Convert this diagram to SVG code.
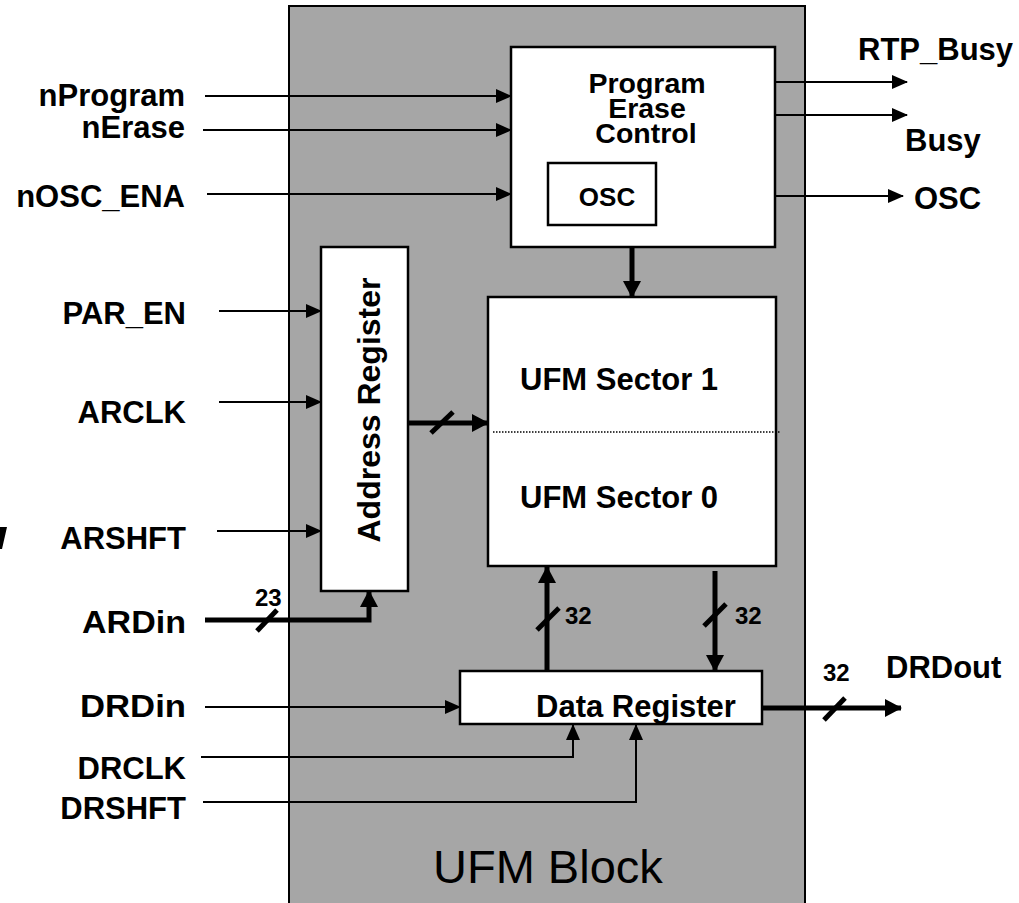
<svg xmlns="http://www.w3.org/2000/svg" width="1019" height="903" viewBox="0 0 1019 903">
  <style>
    .box { fill: #ffffff; stroke: #000000; stroke-width: 2.5; }
    .lbl { font-family: "Liberation Sans", Arial, sans-serif; font-weight: bold; font-size: 31px; fill: #000000; }
    .ctl { font-family: "Liberation Sans", Arial, sans-serif; font-weight: bold; font-size: 28.5px; fill: #000000; text-anchor: middle; }
    .in  { text-anchor: end; }
    .mid { text-anchor: middle; }
    .bus { font-family: "Liberation Sans", Arial, sans-serif; font-weight: bold; font-size: 24px; fill: #000000; }
    .thin { fill: none; stroke: #000000; stroke-width: 2; }
    .thick { fill: none; stroke: #000000; stroke-width: 5; }
    .slash { fill: none; stroke: #000000; stroke-width: 5; }
  </style>
  <defs>
    <marker id="arrowThin" markerUnits="userSpaceOnUse" markerWidth="16" markerHeight="14" refX="15" refY="7" orient="auto">
      <path d="M0,0 L16,7 L0,14 Z" fill="#000000"/>
    </marker>
    <marker id="arrowThick" markerUnits="userSpaceOnUse" markerWidth="17" markerHeight="18" refX="16" refY="9" orient="auto">
      <path d="M0,0 L17,9 L0,18 Z" fill="#000000"/>
    </marker>
  </defs>

  <rect width="1019" height="903" fill="#ffffff"/>

  <!-- stray fragment at the left edge -->
  <polygon points="0,527 7,527 2,549 0,549" fill="#000000"/>

  <!-- UFM block container -->
  <g id="ufm-block">
    <rect x="289" y="6" width="516" height="900" fill="#a6a6a6" stroke="#000000" stroke-width="2"/>
    <text x="433" y="883" font-family="Liberation Sans, Arial, sans-serif" font-size="47" fill="#000000">UFM Block</text>
  </g>

  <!-- connectors -->
  <g id="connectors">
    <!-- control inputs -->
    <line class="thin" x1="205" y1="96" x2="511" y2="96" marker-end="url(#arrowThin)"/>
    <line class="thin" x1="203" y1="130" x2="511" y2="130" marker-end="url(#arrowThin)"/>
    <line class="thin" x1="207" y1="194" x2="511" y2="194" marker-end="url(#arrowThin)"/>
    <!-- status outputs -->
    <line class="thin" x1="776" y1="82" x2="907" y2="82" marker-end="url(#arrowThin)"/>
    <line class="thin" x1="776" y1="115" x2="907" y2="115" marker-end="url(#arrowThin)"/>
    <line class="thin" x1="656" y1="196" x2="903" y2="196" marker-end="url(#arrowThin)"/>
    <!-- control to sectors -->
    <line class="thick" x1="632" y1="247" x2="632" y2="297" marker-end="url(#arrowThick)"/>
    <!-- address register inputs -->
    <line class="thin" x1="219" y1="311" x2="321" y2="311" marker-end="url(#arrowThin)"/>
    <line class="thin" x1="219" y1="402" x2="321" y2="402" marker-end="url(#arrowThin)"/>
    <line class="thin" x1="217" y1="531" x2="321" y2="531" marker-end="url(#arrowThin)"/>
    <!-- address bus -->
    <line class="thick" x1="408" y1="423" x2="488" y2="423" marker-end="url(#arrowThick)"/>
    <line class="slash" x1="431" y1="433" x2="453" y2="412"/>
    <!-- serial address in -->
    <polyline class="thick" points="205,620 369,620 369,591" marker-end="url(#arrowThick)"/>
    <line class="slash" x1="257" y1="631" x2="277" y2="610"/>
    <!-- data buses -->
    <line class="thick" x1="547" y1="671" x2="547" y2="567" marker-end="url(#arrowThick)"/>
    <line class="slash" x1="537" y1="630" x2="559" y2="608"/>
    <line class="thick" x1="715" y1="571" x2="715" y2="671" marker-end="url(#arrowThick)"/>
    <line class="slash" x1="704" y1="626" x2="726" y2="604"/>
    <!-- data register inputs -->
    <line class="thin" x1="205" y1="707" x2="460" y2="707" marker-end="url(#arrowThin)"/>
    <polyline class="thin" points="201,757 573,757 573,725" marker-end="url(#arrowThin)"/>
    <polyline class="thin" points="203,802 636,802 636,725" marker-end="url(#arrowThin)"/>
    <!-- data out -->
    <line class="thick" x1="762" y1="708" x2="901" y2="708" marker-end="url(#arrowThick)"/>
    <line class="slash" x1="824" y1="720" x2="845" y2="698"/>
  </g>

  <!-- program / erase control -->
  <g id="program-erase-control">
    <rect class="box" x="511" y="47" width="264" height="200"/>
    <text class="ctl" x="647" y="93">Program</text>
    <text class="ctl" x="647" y="118">Erase</text>
    <text class="ctl" x="646" y="143">Control</text>
  </g>

  <g id="osc">
    <rect class="box" x="548" y="163" width="108" height="62"/>
    <text class="lbl mid" x="607" y="206" style="font-size:26px">OSC</text>
  </g>

  <!-- UFM sectors -->
  <g id="ufm-sectors">
    <rect class="box" x="488" y="297" width="288" height="269"/>
    <line x1="493" y1="432" x2="780" y2="432" stroke="#000000" stroke-width="1.5" stroke-dasharray="1.5,1.5"/>
    <text class="lbl" x="520" y="390">UFM Sector 1</text>
    <text class="lbl" x="520" y="508">UFM Sector 0</text>
  </g>

  <!-- address register -->
  <g id="address-register">
    <rect class="box" x="321" y="247" width="87" height="344"/>
    <text class="lbl mid" transform="translate(380,410) rotate(-90)" style="font-size:32px">Address Register</text>
  </g>

  <!-- data register -->
  <g id="data-register">
    <rect class="box" x="460" y="671" width="302" height="53"/>
    <text class="lbl mid" x="636" y="717">Data Register</text>
  </g>

  <!-- external signal labels -->
  <g id="labels">
    <text class="lbl in" x="185" y="106">nProgram</text>
    <text class="lbl in" x="185" y="138">nErase</text>
    <text class="lbl in" x="185" y="207">nOSC_ENA</text>
    <text class="lbl in" x="186" y="324">PAR_EN</text>
    <text class="lbl in" x="186" y="423">ARCLK</text>
    <text class="lbl in" x="186" y="549">ARSHFT</text>
    <text class="lbl" x="82" y="633" textLength="104" lengthAdjust="spacingAndGlyphs">ARDin</text>
    <text class="lbl" x="80" y="717" textLength="106" lengthAdjust="spacingAndGlyphs">DRDin</text>
    <text class="lbl in" x="186" y="779">DRCLK</text>
    <text class="lbl in" x="186" y="819">DRSHFT</text>
    <text class="lbl" x="858" y="60">RTP_Busy</text>
    <text class="lbl" x="905" y="151">Busy</text>
    <text class="lbl" x="914" y="209">OSC</text>
    <text class="lbl" x="886" y="678">DRDout</text>
  </g>

  <!-- bus widths -->
  <g id="bus-widths">
    <text class="bus" x="255" y="606">23</text>
    <text class="bus" x="565" y="624">32</text>
    <text class="bus" x="735" y="624">32</text>
    <text class="bus" x="823" y="681">32</text>
  </g>
</svg>
